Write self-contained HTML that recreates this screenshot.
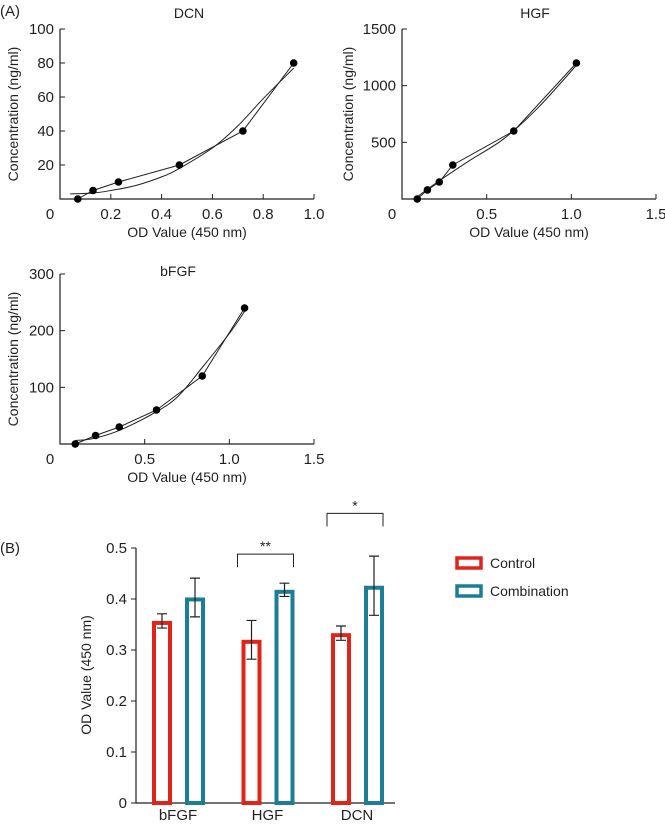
<!DOCTYPE html>
<html><head><meta charset="utf-8"><style>
body{margin:0;background:#fff}
svg{font-family:"Liberation Sans",Arial,sans-serif;fill:#231f20}
text{fill:#231f20}
</style></head><body>
<svg id="fig" width="665" height="824" viewBox="0 0 665 824" xmlns="http://www.w3.org/2000/svg">
<text x="0" y="16" font-size="15">(A)</text>
<text x="0" y="553" font-size="15">(B)</text>
<g id="g"></g>
</svg>
<script>
const NS="http://www.w3.org/2000/svg";
const root=document.getElementById('g');
function mk(tag,attrs,parent,txt){const e=document.createElementNS(NS,tag);for(const k in attrs)e.setAttribute(k,attrs[k]);if(txt!==undefined)e.textContent=txt;(parent||root).appendChild(e);return e;}

// ---- Standard curve data ----
const dcnX=[0.07,0.13,0.23,0.47,0.72,0.92];
const dcnY=[0,5,10,20,40,80];
const dcnFitX=[0.04,0.13,0.2,0.3,0.4,0.47,0.6,0.7,0.8,0.92];
const dcnFitY=[3,3.5,5,8,13,18,30,43,59,77];
const hgfX=[0.09,0.15,0.22,0.3,0.66,1.03];
const hgfY=[0,80,150,300,600,1200];
const hgfFitX=[0.09,0.2,0.4,0.6,0.8,1.03];
const hgfFitY=[20,140,340,530,800,1180];
const bfgfX=[0.09,0.21,0.35,0.57,0.84,1.09];
const bfgfY=[0,15,30,60,120,240];
const bfgfFitX=[0.09,0.2,0.35,0.57,0.7,0.84,1.0,1.09];
const bfgfFitY=[6,10,24,57,85,135,195,234];
const dcnXTicks=["0.2","0.4","0.6","0.8","1.0"];
const dcnYTicks=["20","40","60","80","100"];
const hgfXTicks=["0.5","1.0","1.5"];
const hgfYTicks=["500","1000","1500"];
const bfgfYTicks=["100","200","300"];

function smooth(pts){
  let d=`M${pts[0][0]},${pts[0][1]}`;
  for(let i=0;i<pts.length-1;i++){
    const p0=pts[i-1]||pts[i],p1=pts[i],p2=pts[i+1],p3=pts[i+2]||p2;
    const c1=[p1[0]+(p2[0]-p0[0])/6,p1[1]+(p2[1]-p0[1])/6];
    const c2=[p2[0]-(p3[0]-p1[0])/6,p2[1]-(p3[1]-p1[1])/6];
    d+=`C${c1[0]},${c1[1]} ${c2[0]},${c2[1]} ${p2[0]},${p2[1]}`;
  }
  return d;
}

function curve(name,o){
  const g=mk('g',{});
  
  
  const sx=v=>o.x0+(v/o.xmax)*(o.x1-o.x0);
  const sy=v=>o.y0-(v/o.ymax)*(o.y0-o.y1);
  const t=mk('text',{x:o.tx,y:o.ty,'font-size':14,'text-anchor':'middle'},g,name==='bfgf'?'bFGF':name.toUpperCase());
  
  const ax=mk('path',{d:`M${o.x0},${o.y1}V${o.y0}H${o.x1}`,stroke:'#231f20','stroke-width':1.2,fill:'none'},g);
  
  o.xt.forEach(l=>{const v=parseFloat(l),x=sx(v);
    mk('line',{x1:x,x2:x,y1:o.y0,y2:o.y0-5,stroke:'#231f20'},g);
    const e=mk('text',{x:x,y:o.y0+20,'font-size':15,'text-anchor':'middle'},g,l);
    });
  const z=mk('text',{x:o.x0-10,y:o.y0+20,'font-size':15,'text-anchor':'middle'},g,'0');
  
  o.yt.forEach(l=>{const v=parseFloat(l),y=sy(v);
    mk('line',{x1:o.x0,x2:o.x0+5,y1:y,y2:y,stroke:'#231f20'},g);
    const e=mk('text',{x:o.x0-6,y:y+5,'font-size':15,'text-anchor':'end'},g,l);
    });
  const xl=mk('text',{x:(o.x0+o.x1)/2,y:o.y0+38,'font-size':14,'text-anchor':'middle'},g,'OD Value (450 nm)');
  
  const yc=(o.y0+o.y1)/2;
  const yl=mk('text',{x:o.ylx,y:yc,'font-size':14,'text-anchor':'middle',transform:`rotate(-90 ${o.ylx} ${yc})`},g,'Concentration (ng/ml)');
  
  const fp=mk('path',{d:smooth(o.fx.map((v,i)=>[sx(v),sy(o.fy[i])])),fill:'none',stroke:'#231f20','stroke-width':1},g);
  
  const lp=mk('polyline',{points:o.px.map((v,i)=>sx(v)+','+sy(o.py[i])).join(' '),fill:'none',stroke:'#231f20','stroke-width':1},g);
  
  o.px.forEach((v,i)=>{const c=mk('circle',{cx:sx(v),cy:sy(o.py[i]),r:3.8,fill:'#000'},g);
    });
}
curve('dcn',{x0:60,x1:314,xmax:1.0,y0:199,y1:29,ymax:100,xt:dcnXTicks,yt:dcnYTicks,px:dcnX,py:dcnY,fx:dcnFitX,fy:dcnFitY,tx:189,ty:18,ylx:18});
curve('hgf',{x0:402,x1:656,xmax:1.5,y0:199,y1:29,ymax:1500,xt:hgfXTicks,yt:hgfYTicks,px:hgfX,py:hgfY,fx:hgfFitX,fy:hgfFitY,tx:535,ty:18,ylx:353});
curve('bfgf',{x0:60,x1:314,xmax:1.5,y0:444,y1:274,ymax:300,xt:hgfXTicks,yt:bfgfYTicks,px:bfgfX,py:bfgfY,fx:bfgfFitX,fy:bfgfFitY,tx:178,ty:276,ylx:18});

// ---- Bar chart data ----
const categories=["bFGF","HGF","DCN"];
const controlVals=[0.357,0.320,0.333];
const controlErr=[0.014,0.038,0.014];
const comboVals=[0.403,0.418,0.426];
const comboErr=[0.038,0.013,0.058];
const barTicks=["0","0.1","0.2","0.3","0.4","0.5"];
const sigLabels=["","**","*"];
const sigHeights=[0,0.488,0.568];

(function(){
  const g=mk('g',{});
  
  
  const X0=136,X1=395,Y0=803,Y1=548,YM=0.5;
  const sy=v=>Y0-(v/YM)*(Y0-Y1);
  const gx=i=>152+i*89.5;
  const ax=mk('path',{d:`M${X0},${Y1}V${Y0}H${X1}`,stroke:'#231f20','stroke-width':1.2,fill:'none'},g);
  
  barTicks.forEach(l=>{const y=sy(parseFloat(l));
    mk('line',{x1:X0-5,x2:X0,y1:y,y2:y,stroke:'#231f20'},g);
    const e=mk('text',{x:X0-9,y:y+5,'font-size':15,'text-anchor':'end'},g,l);
    });
  const yl=mk('text',{x:91,y:675,'font-size':14,'text-anchor':'middle',transform:'rotate(-90 91 675)'},g,'OD Value (450 nm)');
  
  function bar(x,v,e,col,nm){
    const r=mk('rect',{x:x+2,y:sy(v)+2,width:16,height:Y0-sy(v)-2,fill:'#fff',stroke:col,'stroke-width':4},g);
    
    const p=mk('path',{d:`M${x+10},${sy(v+e)}V${sy(v-e)}M${x+5},${sy(v+e)}H${x+15}M${x+5},${sy(v-e)}H${x+15}`,stroke:'#231f20','stroke-width':1.2,fill:'none'},g);
    
  }
  categories.forEach((c,i)=>{
    const x=gx(i);
    bar(x,controlVals[i],controlErr[i],'#e2231a','bar-control-'+c.toLowerCase());
    bar(x+33,comboVals[i],comboErr[i],'#1b7d96','bar-combination-'+c.toLowerCase());
    const t=mk('text',{x:x+26,y:820,'font-size':15,'text-anchor':'middle'},g,c);
    
    if(sigLabels[i]){
      const by=sy(sigHeights[i]);
      const b=mk('path',{d:`M${x-4},${by+13}V${by}H${x+52}V${by+13}`,stroke:'#231f20',fill:'none','stroke-width':1},g);
      
      const s=mk('text',{x:x+24,y:by-3,'font-size':14,'text-anchor':'middle'},g,sigLabels[i]);
      
    }
  });
  const lg=mk('g',{},g);
  
  [['Control','#e2231a',563],['Combination','#1b7d96',591]].forEach(([n,c,y])=>{
    const r=mk('rect',{x:457,y:y-5,width:24,height:10,fill:'#fff',stroke:c,'stroke-width':3.5},lg);
    
    const t=mk('text',{x:490,y:y+5,'font-size':14},lg,n);
    
  });
})();
</script>
</body></html>
